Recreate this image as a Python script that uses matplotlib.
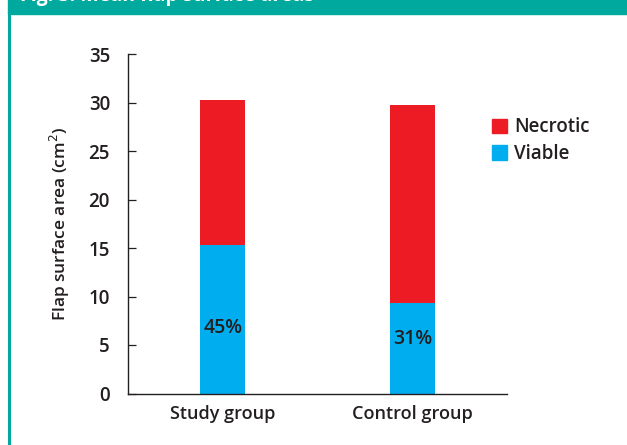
import matplotlib
matplotlib.use("Agg")
import matplotlib.pyplot as plt
from matplotlib.patches import Rectangle
from matplotlib.lines import Line2D

# Data
groups = ["Study group", "Control group"]
viable = [15.3, 9.3]
total = [30.3, 29.7]
necrotic = [t - v for t, v in zip(total, viable)]
pct_labels = ["45%", "31%"]
pct_label_y = [6.8, 5.6]
yticks = [0, 5, 10, 15, 20, 25, 30, 35]

RED = "#ED1C24"
BLUE = "#00AEEF"
TEAL = "#00A99D"
INK = "#231F20"

plt.rcParams["font.family"] = ["Open Sans", "DejaVu Sans"]

W, H = 627, 445
fig = plt.figure(figsize=(W / 100, H / 100), dpi=100)

# Frame: teal header band and left rule
fig.add_artist(Rectangle((8 / W, 1 - 14 / H), 1 - 8 / W, 14 / H,
                         transform=fig.transFigure, color=TEAL, zorder=0))
fig.add_artist(Line2D([9 / W, 9 / W], [0, 1 - 14 / H],
                      transform=fig.transFigure, color=TEAL, lw=2.2))
fig.text(20 / W, 1 - 1.5 / H, "Fig. 3. Mean flap surface areas",
         color="white", fontsize=14, fontweight="bold", va="baseline",
         ha="left")

ax = fig.add_axes([128 / W, 1 - 393.5 / H, (507 - 128) / W, (393.5 - 54) / H])
x = range(len(groups))
ax.bar(x, viable, width=0.24, color=BLUE, label="Viable", zorder=2)
ax.bar(x, necrotic, bottom=viable, width=0.24, color=RED, label="Necrotic",
       zorder=2)

for xi, lab, yy in zip(x, pct_labels, pct_label_y):
    ax.text(xi, yy, lab, ha="center", va="center", fontsize=14,
            color=INK, fontweight="semibold")

ax.set_xlim(-0.5, 1.5)
ax.set_ylim(0, 35)
ax.set_yticks(yticks)
ax.set_xticks(list(x))
ax.set_xticklabels(groups, fontsize=13, fontweight="semibold", color=INK)
ax.tick_params(axis="x", length=0, pad=8)
ax.tick_params(axis="y", direction="in", length=6, width=0.9, pad=13,
               labelsize=13.5, labelcolor=INK, color=INK)
for lbl in ax.get_yticklabels():
    lbl.set_fontweight("semibold")
for side in ("top", "right"):
    ax.spines[side].set_visible(False)
for side in ("left", "bottom"):
    ax.spines[side].set_color(INK)
    ax.spines[side].set_linewidth(1.0)
ax.set_ylabel("Flap surface area (cm$^2$)", fontsize=12.5,
              fontweight="semibold", color=INK, labelpad=12)

handles = [Rectangle((0, 0), 1, 1, color=RED), Rectangle((0, 0), 1, 1, color=BLUE)]
fig.legend(handles, ["Necrotic", "Viable"], loc="upper left",
           bbox_to_anchor=(484 / W, 1 - 110 / H), frameon=False,
           handlelength=0.85, handleheight=0.85,
           handletextpad=0.35, labelspacing=0.35, borderaxespad=0,
           labelcolor=INK, prop={"weight": "semibold", "size": 13.5})

fig.savefig("out.png", dpi=100)
